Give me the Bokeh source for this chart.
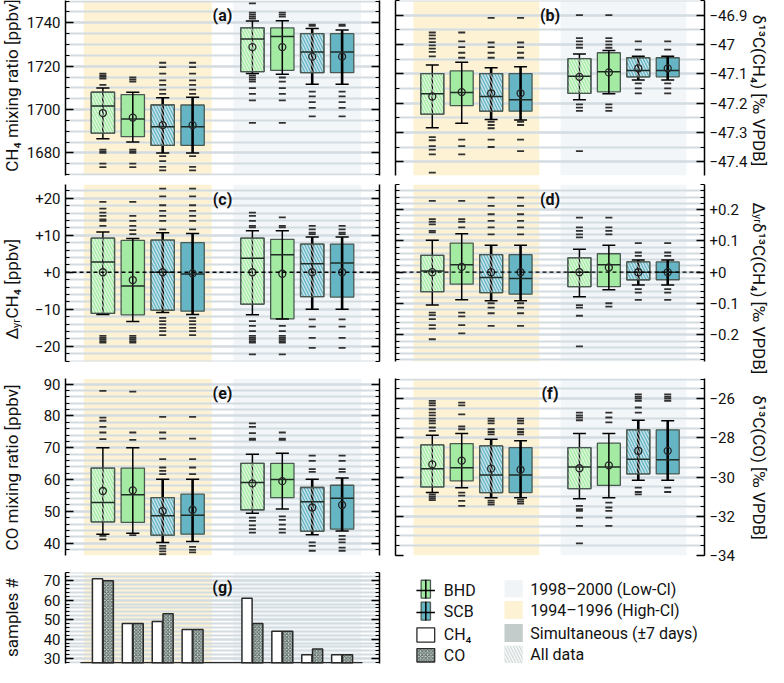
import math
from bokeh.plotting import figure
from bokeh.models import (Range1d, LinearAxis, SingleIntervalTicker, CustomJSTickFormatter,
                          Span, Label, ColumnDataSource)
from bokeh.layouts import gridplot, row
from bokeh.transform import dodge
from bokeh.embed import file_html
from bokeh.resources import INLINE
from bokeh.core.properties import value

# ---------------- categories ----------------
period_order = ["1994–1996 (High-Cl)", "1998–2000 (Low-Cl)"]
periods = ["1994–1996 (High-Cl)"] * 4 + ["1998–2000 (Low-Cl)"] * 4
stations = ["BHD", "BHD", "SCB", "SCB"] * 2
subsets = ["All data", "Simultaneous"] * 4

# ---------------- (a) CH4 mixing ratio [ppbv] ----------------
a_q1 = [1689.1, 1687.5, 1683.5, 1683.5, 1717.5, 1718.1, 1717.0, 1717.0]
a_med = [1701.6, 1695.7, 1692.1, 1692.1, 1732.6, 1733.7, 1726.5, 1726.5]
a_q3 = [1708.0, 1706.9, 1702.1, 1702.1, 1737.7, 1737.7, 1735.0, 1735.0]
a_lo = [1686.5, 1685.0, 1680.0, 1680.0, 1716.6, 1716.3, 1711.7, 1711.7]
a_hi = [1709.9, 1708.0, 1705.4, 1705.7, 1740.8, 1741.0, 1737.4, 1736.7]
a_mean = [1698.4, 1696.3, 1692.8, 1692.8, 1728.8, 1728.8, 1724.4, 1724.4]
a_out = [
    [1716.6, 1715.8, 1715.1, 1714.3, 1711.4, 1681.5, 1680.7, 1680.0, 1675.1, 1673.5],
    [1714.8, 1713.8, 1712.9, 1681.5, 1680.7, 1680.0, 1675.1, 1673.5],
    [1721.6, 1719.6, 1716.6, 1713.5, 1711.4, 1709.2, 1707.2, 1678.5, 1676.2, 1673.6, 1672.0],
    [1721.6, 1719.6, 1716.6, 1713.5, 1711.4, 1709.2, 1707.2, 1678.5, 1673.6, 1672.0],
    [1749.0, 1744.7, 1743.8, 1742.9, 1742.0, 1715.8, 1714.8, 1713.8, 1712.9, 1709.9, 1707.2, 1704.2, 1693.9],
    [1744.7, 1743.8, 1742.9, 1714.8, 1712.9, 1709.9, 1707.2, 1704.2, 1693.9],
    [1739.2, 1738.6, 1708.3, 1706.1, 1703.4, 1700.8, 1696.9],
    [1739.2, 1738.6, 1708.3, 1706.1, 1703.4, 1700.8, 1696.9],
]

# ---------------- (b) d13C(CH4) [permil VPDB] ----------------
b_q1 = [-47.237, -47.208, -47.227, -47.227, -47.166, -47.161, -47.110, -47.110]
b_med = [-47.168, -47.163, -47.177, -47.188, -47.108, -47.093, -47.088, -47.088]
b_q3 = [-47.099, -47.090, -47.099, -47.099, -47.048, -47.028, -47.045, -47.045]
b_lo = [-47.283, -47.268, -47.255, -47.257, -47.188, -47.168, -47.121, -47.121]
b_hi = [-47.070, -47.060, -47.079, -47.076, -47.032, -47.020, -47.040, -47.040]
b_mean = [-47.177, -47.162, -47.166, -47.166, -47.110, -47.095, -47.081, -47.081]
b_out = [
    [-46.959, -46.969, -46.980, -46.992, -47.003, -47.014, -47.025, -47.040,
     -47.315, -47.326, -47.346, -47.358, -47.374, -47.436],
    [-46.959, -46.989, -47.009, -47.028, -47.045, -47.324, -47.346, -47.374],
    [-46.909, -46.993, -47.009, -47.028, -47.045, -47.263, -47.274, -47.285, -47.324, -47.349],
    [-46.909, -46.993, -47.009, -47.028, -47.045, -47.263, -47.274, -47.324, -47.363],
    [-46.900, -46.978, -46.989, -47.000, -47.011, -47.204, -47.215, -47.226, -47.363],
    [-46.900, -46.978, -46.989, -47.000, -47.011, -47.204, -47.215, -47.226],
    [-46.989, -47.017, -47.132, -47.149, -47.166],
    [-46.989, -47.017, -47.132, -47.149, -47.166],
]

# ---------------- (c) Delta_yr CH4 [ppbv] ----------------
c_q1 = [-11.1, -11.5, -10.2, -10.5, -8.6, -12.6, -6.6, -6.7]
c_med = [2.8, -3.7, 0.0, -0.5, 3.8, 4.7, 2.3, 2.5]
c_q3 = [9.2, 8.6, 8.7, 8.0, 9.2, 8.9, 7.6, 7.6]
c_lo = [-11.4, -13.3, -10.9, -11.4, -11.5, -12.6, -10.0, -10.0]
c_hi = [10.9, 9.1, 10.7, 10.5, 11.2, 11.2, 9.5, 9.5]
c_mean = [0.0, -2.1, 0.0, -0.3, 0.0, -0.4, 0.0, 0.0]
c_out = [
    [19.0, 17.2, 16.1, 15.2, 14.3, 13.9, 12.5, -17.2, -17.7, -18.1, -18.6, -19.0],
    [19.0, 15.2, 13.9, 12.5, 11.4, 10.3, -17.2, -17.7, -18.1, -18.6, -19.0],
    [22.6, 20.5, 18.1, 16.6, 15.2, 13.9, 11.6, -12.3, -13.2, -14.1, -15.0, -15.9, -17.0],
    [22.6, 20.5, 18.1, 16.6, 15.2, 13.9, 11.6, -12.3, -13.2, -14.1, -15.0, -15.9, -17.0],
    [16.1, 15.2, 13.9, 12.5, 12.1, -13.2, -14.5, -15.9, -17.2, -17.7, -18.1, -18.6, -19.0, -22.2],
    [14.8, 12.5, 12.1, -14.5, -15.9, -17.2, -17.7, -18.1, -18.6, -19.0, -22.2],
    [12.5, 11.6, 10.7, 10.3, -12.7, -14.7, -17.7, -20.4],
    [12.5, 11.6, 10.7, 10.3, -12.7, -14.7, -17.7, -20.4],
]

# ---------------- (d) Delta_yr d13C(CH4) [permil VPDB] ----------------
d_q1 = [-0.062, -0.038, -0.065, -0.070, -0.046, -0.046, -0.024, -0.024]
d_med = [0.004, 0.024, -0.017, -0.020, 0.000, 0.024, 0.000, 0.000]
d_q3 = [0.054, 0.093, 0.056, 0.056, 0.046, 0.059, 0.033, 0.033]
d_lo = [-0.105, -0.088, -0.091, -0.091, -0.078, -0.056, -0.041, -0.041]
d_hi = [0.102, 0.123, 0.086, 0.086, 0.073, 0.086, 0.039, 0.039]
d_mean = [0.000, 0.017, 0.000, 0.000, 0.000, 0.015, 0.000, 0.000]
d_out = [
    [0.228, 0.169, 0.161, 0.153, 0.132, 0.127, -0.129, -0.137, -0.150, -0.169, -0.180, -0.214],
    [0.228, 0.169, 0.161, 0.143, -0.129, -0.141, -0.169, -0.195],
    [0.238, 0.212, 0.185, 0.164, 0.143, 0.121, -0.099, -0.113, -0.131, -0.171],
    [0.238, 0.212, 0.185, 0.164, 0.143, 0.121, -0.099, -0.113, -0.131, -0.171],
    [0.174, 0.143, 0.132, 0.121, 0.111, -0.105, -0.113, -0.139, -0.237],
    [0.174, 0.143, 0.132, 0.121, -0.099, -0.110],
    [0.093, 0.063, 0.052, -0.054, -0.065, -0.088],
    [0.093, 0.063, 0.052, -0.054, -0.065, -0.088],
]

# ---------------- (e) CO mixing ratio [ppbv] ----------------
e_q1 = [46.7, 46.5, 42.5, 42.8, 50.5, 54.3, 43.8, 44.4]
e_med = [52.8, 55.2, 48.6, 48.8, 59.1, 60.0, 53.0, 54.1]
e_q3 = [63.6, 63.6, 54.3, 55.4, 65.1, 65.1, 57.5, 58.2]
e_lo = [42.8, 43.1, 40.2, 40.5, 49.4, 50.7, 42.6, 43.8]
e_hi = [70.0, 70.0, 60.1, 60.1, 68.0, 68.3, 60.1, 60.5]
e_mean = [56.4, 56.6, 50.1, 50.5, 58.8, 59.5, 51.2, 52.0]
e_out = [
    [87.9, 79.5, 78.5, 76.6, 74.8, 72.7, 42.3, 41.2],
    [87.7, 74.8, 72.5, 42.5],
    [79.7, 74.8, 72.9, 66.4, 63.8, 62.7, 61.7, 39.1, 38.3, 37.4, 36.5],
    [79.7, 72.9, 66.4, 63.8, 61.7, 38.8, 37.9, 37.1],
    [77.7, 76.6, 74.6, 72.9, 72.5, 48.0, 47.0, 45.6, 44.4, 43.3],
    [74.8, 72.9, 72.5, 48.4, 47.3, 45.8, 44.4, 43.3],
    [67.5, 65.9, 63.3, 62.4, 40.2, 39.1, 37.6],
    [67.5, 65.9, 63.3, 62.4, 42.3, 41.2, 40.2, 38.6, 37.6],
]

# ---------------- (f) d13C(CO) [permil VPDB] ----------------
f_q1 = [-30.50, -30.19, -30.79, -30.79, -30.59, -30.42, -29.84, -29.84]
f_med = [-29.57, -29.52, -29.89, -29.89, -29.48, -29.48, -29.09, -29.12]
f_q3 = [-28.36, -28.29, -28.41, -28.50, -28.50, -28.27, -27.59, -27.59]
f_lo = [-30.79, -30.54, -31.06, -31.06, -31.10, -31.05, -30.16, -30.16]
f_hi = [-27.87, -27.78, -28.07, -28.15, -27.77, -27.78, -27.10, -27.13]
f_mean = [-29.35, -29.16, -29.57, -29.62, -29.55, -29.40, -28.66, -28.66]
f_out = [
    [-26.11, -26.23, -26.34, -26.54, -26.71, -26.85, -27.02, -27.13, -27.26, -27.47, -27.64,
     -30.88, -30.98, -31.08, -31.18],
    [-26.20, -26.34, -26.80, -27.42, -27.56, -30.79, -30.95, -31.21, -31.47],
    [-27.02, -27.13, -27.26, -27.56, -27.70, -27.82, -31.20, -31.30, -31.40],
    [-27.02, -27.13, -27.26, -27.56, -27.70, -27.82, -31.15, -31.25, -31.35],
    [-26.71, -26.85, -26.96, -27.10, -31.47, -31.64, -31.72, -32.07, -32.49, -33.38],
    [-26.71, -26.96, -27.21, -31.30, -31.55, -31.72, -32.07, -32.49],
    [-25.78, -25.90, -26.00, -26.11, -26.45, -26.71, -30.54, -30.76, -30.88],
    [-25.78, -25.90, -26.00, -26.11, -30.54, -30.76],
]

# ---------------- (g) number of samples ----------------
n_ch4 = [71, 48, 49, 45, 61, 44, 32, 32]
n_co = [70, 48, 53, 45, 48, 44, 35, 32]

# ---------------- legend / axis texts ----------------
legend_station = ["BHD", "SCB"]
legend_species = ["CH₄", "CO"]
legend_shading = ["1998–2000 (Low-Cl)", "1994–1996 (High-Cl)", "Simultaneous (±7 days)", "All data"]

# ---------------- styling / layout constants ----------------
FONT = "Roboto"
INK = "#111111"
GRID_C = "#d3dce1"
SHADE = {"1994–1996 (High-Cl)": "#fdf3d4", "1998–2000 (Low-Cl)": "#f3f6f8"}
GREEN = "#a3eba3"
TEAL = "#66b5c5"
EDGE = "#4a5a52"
SIMGRAY = "#c3cbcb"
ALLGRAY = "#d2d9d9"
CO_FILL = "#c9d1d0"
CO_HATCH = "#56655f"
LABEL_SIZE = "17px"
SUB_SIZE = "11px"
XR = (-0.25, 10.25)
PAGE_TOP, PAGE_BOT = 8, 675
LSTRIP = (8, 30)
RSTRIP = (758, 776)
COLS = {0: dict(width=363, bl=43, br=6, fl=73, fw=314),
        1: dict(width=365, bl=10, br=43, fl=403, fw=312)}
ROWS = {0: dict(height=179, bt=0, bb=4, ft=8, fh=175),
        1: dict(height=190, bt=5, bb=8, ft=192, fh=177),
        2: dict(height=196, bt=9, bb=10, ft=386, fh=177),
        3: dict(height=102, bt=7, bb=4, ft=580, fh=91)}

box_x = [1 + (i % 4) + 5 * period_order.index(per) for i, per in enumerate(periods)]
UP = math.pi / 2
DOWN = -math.pi / 2


def dy(row_, yr, py):
    r = ROWS[row_]
    return yr[1] - (py - r["ft"]) / r["fh"] * (yr[1] - yr[0])


def tick_formatter(plus):
    return CustomJSTickFormatter(args=dict(plus=plus), code="""
        const v = Math.round(tick * 1000) / 1000;
        if (v === 0) { return plus ? "+0" : "0"; }
        const s = Math.abs(v).toString();
        return (v < 0 ? "\u2212" : (plus ? "+" : "")) + s;
    """)


def style_axis(ax, labels):
    ax.axis_line_color = "black"
    ax.axis_line_width = 1.5
    ax.major_tick_in = 8
    ax.major_tick_out = 0
    ax.major_tick_line_width = 1.5
    ax.major_tick_line_color = "black"
    ax.minor_tick_in = 4
    ax.minor_tick_out = 0
    ax.minor_tick_line_width = 1.2
    ax.minor_tick_line_color = "black"
    if labels:
        ax.major_label_text_font = FONT
        ax.major_label_text_font_size = "15px"
        ax.major_label_text_color = INK
        ax.major_label_standoff = 5
    else:
        ax.formatter = CustomJSTickFormatter(code="return '';")
        ax.major_label_standoff = 0
        ax.major_label_text_font_size = "1px"


def make_panel(row_, col, yr, interval, nminor, plus=False):
    c, r = COLS[col], ROWS[row_]
    p = figure(width=c["width"], height=r["height"], x_range=Range1d(*XR), y_range=Range1d(*yr),
               output_backend="svg", toolbar_location=None, title=None,
               x_axis_location=None, y_axis_location=("left" if col == 0 else "right"),
               min_border_left=c["bl"], min_border_right=c["br"],
               min_border_top=r["bt"], min_border_bottom=r["bb"])
    p.outline_line_color = None
    ticker = SingleIntervalTicker(interval=interval, num_minor_ticks=nminor)
    main = p.yaxis[0]
    main.ticker = ticker
    main.formatter = tick_formatter(plus)
    style_axis(main, True)
    mirror = LinearAxis(ticker=ticker)
    style_axis(mirror, False)
    p.add_layout(mirror, "right" if col == 0 else "left")
    p.xgrid.visible = False
    p.ygrid.ticker = ticker
    p.ygrid.grid_line_color = GRID_C
    p.ygrid.grid_line_width = 2
    p.ygrid.minor_grid_line_color = GRID_C
    p.ygrid.minor_grid_line_width = 2
    for per in period_order:
        xs = [box_x[i] for i in range(len(box_x)) if periods[i] == per]
        p.quad(left=[min(xs) - 0.64], right=[max(xs) + 0.64], bottom=[yr[0]], top=[yr[1]],
               fill_color=SHADE[per], line_color=None, level="image")
    return p


def draw_boxes(p, q1, med, q3, lo, hi, mean, outl):
    src = ColumnDataSource(dict(
        x=box_x, q1=q1, q3=q3, med=med, lo=lo, hi=hi, mean=mean,
        fill=[GREEN if s == "BHD" else TEAL for s in stations],
        ww=[1.5 if s == "BHD" else 2.6 for s in stations],
        xl=[x - 0.39 for x in box_x], xr=[x + 0.39 for x in box_x],
        cl=[x - 0.22 for x in box_x], cr=[x + 0.22 for x in box_x]))
    ox = [box_x[i] for i, lst in enumerate(outl) for _ in lst]
    oy = [v for lst in outl for v in lst]
    p.scatter(ox, oy, marker="dash", size=7, line_color="#303030", line_width=1.8)
    p.vbar(x="x", width=0.78, bottom="q1", top="q3", fill_color="fill", line_color=EDGE,
           line_width=1.3, source=src)
    p.segment(x0="x", y0="lo", x1="x", y1="hi", line_color="black", line_width="ww", source=src)
    hs = ColumnDataSource({k: [v for v, s in zip(src.data[k], subsets) if s == "All data"]
                           for k in ("x", "q1", "q3")})
    p.vbar(x="x", width=0.78, bottom="q1", top="q3", fill_color=None, line_color=EDGE,
           line_width=1.3, hatch_pattern="\\", hatch_color="white", hatch_alpha=0.65,
           hatch_scale=6, hatch_weight=1.4, source=hs)
    p.segment(x0="cl", y0="hi", x1="cr", y1="hi", line_color="black", line_width=1.5, source=src)
    p.segment(x0="cl", y0="lo", x1="cr", y1="lo", line_color="black", line_width=1.5, source=src)
    p.segment(x0="xl", y0="med", x1="xr", y1="med", line_color="#1f2b25", line_width=1.5, source=src)
    p.scatter(x="x", y="mean", marker="circle", size=7, fill_color=None, line_color="#262626",
              line_width=1.3, source=src)


def letter(p, row_, yr, text):
    p.add_layout(Label(x=5, y=dy(row_, yr, ROWS[row_]["ft"] + 15), text=text, text_font=FONT,
                       text_font_size="16px", text_font_style="bold", text_align="center",
                       text_baseline="middle", text_color=INK))


# ---------- panel a ----------
a_yr = (1669.6, 1750.3)
pa = make_panel(0, 0, a_yr, 20, 4)
draw_boxes(pa, a_q1, a_med, a_q3, a_lo, a_hi, a_mean, a_out)
letter(pa, 0, a_yr, "(a)")

# ---------- panel b ----------
b_yr = (-47.446, -46.850)
pb = make_panel(0, 1, b_yr, 0.1, 2)
draw_boxes(pb, b_q1, b_med, b_q3, b_lo, b_hi, b_mean, b_out)
letter(pb, 0, b_yr, "(b)")

# ---------- panel c ----------
c_yr = (-24.1, 23.7)
pc = make_panel(1, 0, c_yr, 10, 5, plus=True)
draw_boxes(pc, c_q1, c_med, c_q3, c_lo, c_hi, c_mean, c_out)
pc.add_layout(Span(location=0, dimension="width", line_color="black", line_dash="4 3", line_width=1.3))
letter(pc, 1, c_yr, "(c)")

# ---------- panel d ----------
d_yr = (-0.285, 0.280)
pd_ = make_panel(1, 1, d_yr, 0.1, 5, plus=True)
draw_boxes(pd_, d_q1, d_med, d_q3, d_lo, d_hi, d_mean, d_out)
pd_.add_layout(Span(location=0, dimension="width", line_color="black", line_dash="4 3", line_width=1.3))
letter(pd_, 1, d_yr, "(d)")

# ---------- panel e ----------
e_yr = (36.1, 91.8)
pe = make_panel(2, 0, e_yr, 10, 5)
draw_boxes(pe, e_q1, e_med, e_q3, e_lo, e_hi, e_mean, e_out)
letter(pe, 2, e_yr, "(e)")

# ---------- panel f ----------
f_yr = (-34.0, -24.97)
pf = make_panel(2, 1, f_yr, 2, 4)
draw_boxes(pf, f_q1, f_med, f_q3, f_lo, f_hi, f_mean, f_out)
letter(pf, 2, f_yr, "(f)")

# ---------- panel g ----------
g_yr = (27.5, 74.2)
pg = make_panel(3, 0, g_yr, 10, 5)
gsrc = ColumnDataSource(dict(x=box_x, ch4=n_ch4, co=n_co))
pg.vbar(x=dodge("x", -0.18, range=pg.x_range), width=0.34, bottom=g_yr[0], top="ch4",
        fill_color="white", line_color="#2a2a2a", line_width=1.5, source=gsrc)
pg.vbar(x=dodge("x", 0.18, range=pg.x_range), width=0.34, bottom=g_yr[0], top="co",
        fill_color=CO_FILL, hatch_pattern="x", hatch_color=CO_HATCH, hatch_scale=3.5,
        hatch_weight=1.0, line_color="#2a2a2a", line_width=1.5, source=gsrc)
pg.segment(x0=[min(box_x) - 0.75], y0=[g_yr[0] + 0.35], x1=[max(box_x) + 0.68], y1=[g_yr[0] + 0.35],
           line_color="#2a2a2a", line_width=1.5)
letter(pg, 3, g_yr, "(g)")

# ---------- legend panel (data coords = page pixels) ----------
leg = figure(width=365, height=102, x_range=Range1d(393, 758), y_range=Range1d(675, 573),
             output_backend="svg", toolbar_location=None, title=None,
             x_axis_location=None, y_axis_location=None, min_border=0)
leg.outline_line_color = None
leg.grid.visible = False
st_y = [591.7, 616.3]
leg.rect(x=[428.8] * 2, y=st_y, width=11, height=20, fill_color=[GREEN, TEAL], line_color=EDGE,
         line_width=1.3)
leg.segment(x0=[428.8] * 2, y0=[y - 10.5 for y in st_y], x1=[428.8] * 2, y1=[y + 10.5 for y in st_y],
            line_color="black", line_width=1.5)
leg.segment(x0=[417.7] * 2, y0=[y + 1.5 for y in st_y], x1=[439.6] * 2, y1=[y + 1.5 for y in st_y],
            line_color="black", line_width=1.5)
leg.quad(left=[418.3], right=[439.3], top=[635], bottom=[651], fill_color="white",
         line_color="#2a2a2a", line_width=1.3)
leg.quad(left=[418.3], right=[439.3], top=[658.3], bottom=[673.3], fill_color=CO_FILL,
         hatch_pattern="x", hatch_color=CO_HATCH, hatch_scale=3.5, hatch_weight=1.0,
         line_color="#2a2a2a", line_width=1.3)
sq_top = [581.7, 605.0, 630.7, 655.0]
sq_bot = [600.7, 625.0, 651.0, 674.3]
leg.quad(left=[521.7] * 4, right=[543.3] * 4, top=sq_top, bottom=sq_bot,
         fill_color=["#f1f4f6", SHADE["1994–1996 (High-Cl)"], SIMGRAY, ALLGRAY], line_color=None)
leg.quad(left=[521.7], right=[543.3], top=[sq_top[3]], bottom=[sq_bot[3]], fill_color=None,
         line_color=None, hatch_pattern="\\", hatch_color="white", hatch_alpha=0.85,
         hatch_scale=6, hatch_weight=1.5)
leg.text(x=[450] * 4, y=[593, 617, 643, 666], text=legend_station + legend_species,
         text_font=value(FONT), text_font_size=value("16px"), text_color=INK,
         text_baseline="middle", text_align="left")
leg.text(x=[552.3] * 4, y=[592, 616, 641, 665], text=legend_shading,
         text_font=value(FONT), text_font_size=value("16px"), text_color=INK,
         text_baseline="middle", text_align="left")


# ---------- axis-label strips (x = page px, y = PAGE_BOT - page px) ----------
def strip(xr):
    s = figure(width=xr[1] - xr[0], height=PAGE_BOT - PAGE_TOP, x_range=Range1d(*xr),
               y_range=Range1d(0, PAGE_BOT - PAGE_TOP), output_backend="svg",
               toolbar_location=None, title=None, x_axis_location=None, y_axis_location=None,
               min_border=0)
    s.outline_line_color = None
    s.grid.visible = False
    return s


def stext(s, px, py, text, angle, size=LABEL_SIZE, align="center"):
    s.text(x=[px], y=[PAGE_BOT - py], text=[text], angle=angle, text_font=value(FONT),
           text_font_size=value(size), text_color=INK, text_align=align, text_baseline="middle")


ls = strip(LSTRIP)
stext(ls, 19, 93, "CH₄ mixing ratio [ppbv]", UP)
stext(ls, 19, 347, "Δ", UP, align="left")
stext(ls, 23.5, 335.5, "yr", UP, size=SUB_SIZE, align="left")
stext(ls, 19, 326, "CH₄ [ppbv]", UP, align="left")
stext(ls, 19, 475, "CO mixing ratio [ppbv]", UP)
stext(ls, 19, 625, "samples #", UP)

rs = strip(RSTRIP)
stext(rs, 766.5, 98, "δ¹³C(CH₄) [‰ VPDB]", DOWN)
stext(rs, 766.5, 210, "Δ", DOWN, align="left")
stext(rs, 765, 221.5, "yr", DOWN, size=SUB_SIZE, align="left")
stext(rs, 766.5, 230.5, "δ¹³C(CH₄) [‰ VPDB]", DOWN, align="left")
stext(rs, 766.5, 475, "δ¹³C(CO) [‰ VPDB]", DOWN)

panels = gridplot([[pa, pb], [pc, pd_], [pe, pf], [pg, leg]], toolbar_location=None)
layout = row(ls, panels, rs)
open("out.html", "w").write(file_html(layout, INLINE))
